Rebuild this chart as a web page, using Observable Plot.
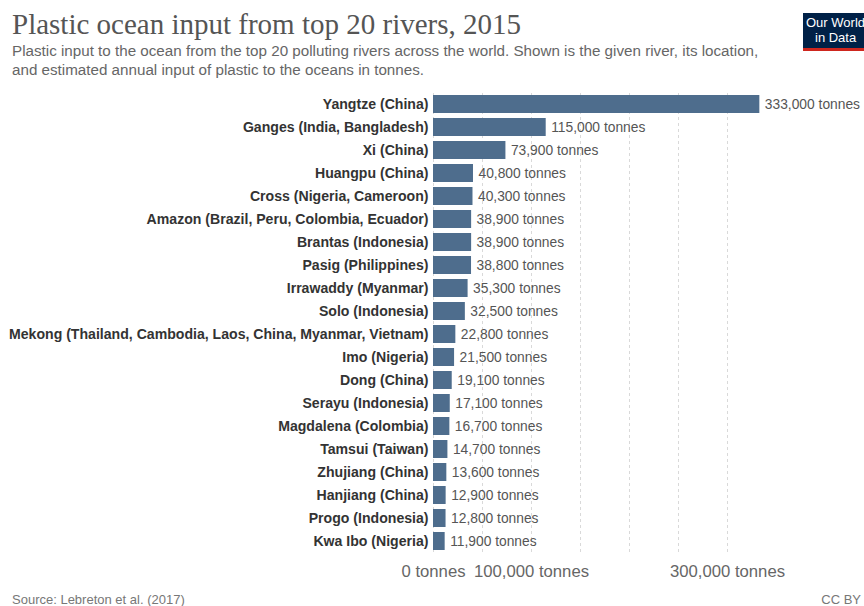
<!DOCTYPE html>
<html>
<head>
<meta charset="utf-8">
<script src="https://cdn.jsdelivr.net/npm/d3@7"></script>
<script src="https://cdn.jsdelivr.net/npm/@observablehq/plot@0.6"></script>
<style>
  html, body { margin: 0; padding: 0; background: #fff; }
  #wrap { position: relative; width: 864px; height: 606px; overflow: hidden; font-family: "Liberation Sans", Arial, sans-serif; }
  #title { position: absolute; left: 12px; top: 8px; font-family: "Liberation Serif", "DejaVu Serif", serif; font-size: 29px; line-height: 32px; color: #555; white-space: nowrap; }
  #subtitle { position: absolute; left: 12px; top: 41px; font-size: 15.2px; line-height: 19px; color: #666; white-space: nowrap; }
  #logo { position: absolute; left: 803px; top: 13px; width: 64px; height: 33px; background: #002147; border-bottom: 3px solid #ce261e; color: #fff; font-size: 13px; line-height: 15px; padding-top: 2px; box-sizing: content-box; }
  #logo div { padding-left: 3px; white-space: nowrap; }
  #chart { position: absolute; left: 0; top: 85px; }
  #source { position: absolute; left: 12px; top: 592px; font-size: 13px; color: #777; }
  #cc { position: absolute; right: 3px; top: 592px; font-size: 13px; color: #777; white-space: nowrap; }
</style>
</head>
<body>
<div id="wrap">
  <div id="title">Plastic ocean input from top 20 rivers, 2015</div>
  <div id="subtitle">Plastic input to the ocean from the top 20 polluting rivers across the world. Shown is the given river, its location,<br>and estimated annual input of plastic to the oceans in tonnes.</div>
  <div id="logo"><div>Our World</div><div style="padding-left:12px">in Data</div></div>
  <div id="chart"></div>
  <div id="source">Source: Lebreton et al. (2017)</div>
  <div id="cc">CC BY</div>
</div>
<script>
const rivers = [
  "Yangtze (China)",
  "Ganges (India, Bangladesh)",
  "Xi (China)",
  "Huangpu (China)",
  "Cross (Nigeria, Cameroon)",
  "Amazon (Brazil, Peru, Colombia, Ecuador)",
  "Brantas (Indonesia)",
  "Pasig (Philippines)",
  "Irrawaddy (Myanmar)",
  "Solo (Indonesia)",
  "Mekong (Thailand, Cambodia, Laos, China, Myanmar, Vietnam)",
  "Imo (Nigeria)",
  "Dong (China)",
  "Serayu (Indonesia)",
  "Magdalena (Colombia)",
  "Tamsui (Taiwan)",
  "Zhujiang (China)",
  "Hanjiang (China)",
  "Progo (Indonesia)",
  "Kwa Ibo (Nigeria)"
];
const tonnes = [333000, 115000, 73900, 40800, 40300, 38900, 38900, 38800, 35300, 32500,
                22800, 21500, 19100, 17100, 16700, 14700, 13600, 12900, 12800, 11900];
const gridTicks = [0, 50000, 100000, 150000, 200000, 250000, 300000];
const axisTicks = [0, 100000, 300000];

const data = rivers.map((r, i) => ({river: r, value: tonnes[i]}));
const fmt = d3.format(",");

const chart = Plot.plot({
  width: 864,
  height: 500,
  marginLeft: 433,
  marginRight: 88,
  marginTop: 8,
  marginBottom: 32,
  x: {domain: [0, 350000]},
  y: {domain: rivers, paddingInner: 0.2, paddingOuter: 0.1},
  style: {fontFamily: "'Liberation Sans', Arial, sans-serif", background: "transparent"},
  marks: [
    Plot.gridX(gridTicks, {stroke: "#d9d9d9", strokeOpacity: 1, strokeDasharray: "3,3"}),
    Plot.barX(data, {x: "value", y: "river", fill: "#4e6d8d"}),
    Plot.text(data, {x: "value", y: "river", text: d => fmt(d.value) + " tonnes", textAnchor: "start", dx: 5, fill: "#555", fontSize: 13.8}),
    Plot.axisY({tickSize: 0, tickPadding: 5, fontSize: 14.1, fontWeight: "bold", fill: "#333", label: null}),
    Plot.axisX(axisTicks, {tickSize: 0, tickPadding: 12, fontSize: 16.7, fill: "#666", label: null, tickFormat: d => fmt(d) + " tonnes"})
  ]
});
document.getElementById("chart").appendChild(chart);
</script>
</body>
</html>
